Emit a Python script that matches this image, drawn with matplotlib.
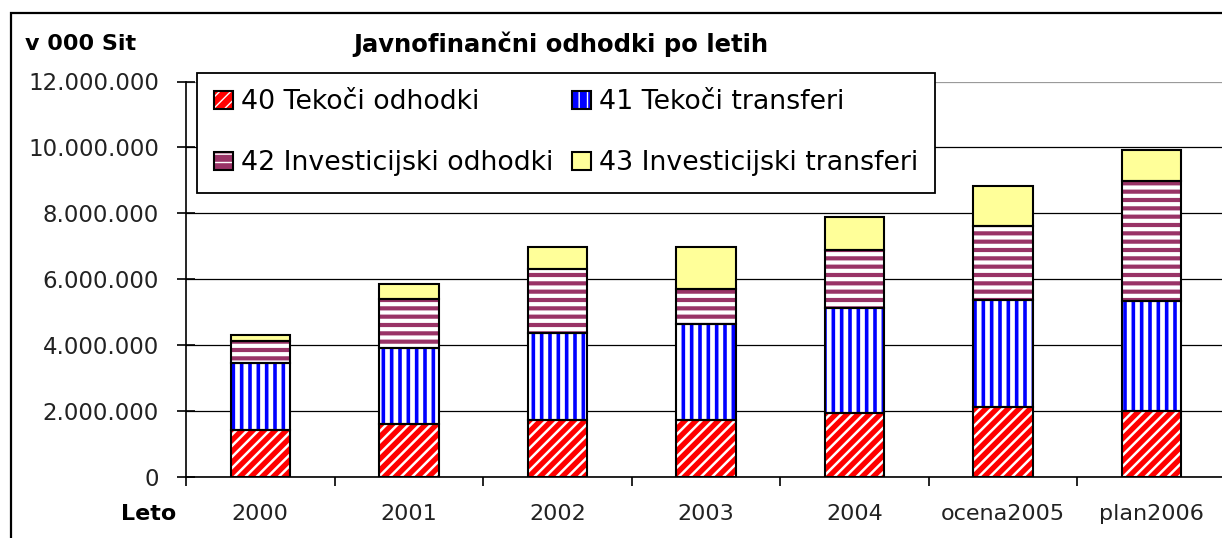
"""Javnofinančni odhodki po letih — stacked bar chart (v 000 Sit)."""

import matplotlib

matplotlib.use("Agg")
import matplotlib.pyplot as plt  # noqa: E402
import numpy as np  # noqa: E402
from matplotlib.legend_handler import HandlerTuple  # noqa: E402
from matplotlib.patches import Rectangle  # noqa: E402
from matplotlib.ticker import FuncFormatter  # noqa: E402

YEARS = ["2000", "2001", "2002", "2003", "2004", "ocena2005", "plan2006"]
SERIES = [
    "40 Tekoči odhodki",
    "41 Tekoči transferi",
    "42 Investicijski odhodki",
    "43 Investicijski transferi",
]
# values in thousand SIT
TEKOCI_ODHODKI = [1420000, 1610000, 1730000, 1740000, 1950000, 2130000, 2010000]
TEKOCI_TRANSFERI = [2060000, 2300000, 2630000, 2900000, 3180000, 3260000, 3320000]
INVEST_ODHODKI = [660000, 1510000, 1950000, 1060000, 1770000, 2240000, 3650000]
INVEST_TRANSFERI = [180000, 450000, 660000, 1270000, 980000, 1190000, 940000]
Y_TICKS = [0, 2000000, 4000000, 6000000, 8000000, 10000000, 12000000]

# face colour, hatch, hatch line width (pt)
STYLES = [
    ("#FF0000", "///", 1.8),
    ("#0000FF", "||", 3.4),
    ("#993366", "--", 3.0),
    ("#FFFF99", "", 1.0),
]

W, H = 1222, 538


def _fmt(v, _pos):
    return f"{v:,.0f}".replace(",", ".")


def main() -> None:
    fig = plt.figure(figsize=(W / 100, H / 100), dpi=100)
    fig.patches.append(Rectangle((11 / W, -0.2), 1.2, 1.2 - 12.7 / H,
                                 transform=fig.transFigure, fill=False,
                                 edgecolor="black", linewidth=1.6, clip_on=False))
    ax = fig.add_axes([186 / W, 1 - 477.3 / H, (1226 - 186) / W, (477.3 - 81.5) / H])

    x = np.arange(len(YEARS))
    bottom = np.zeros(len(YEARS))
    handles = []
    for vals, (color, hatch, hlw) in zip(
        [TEKOCI_ODHODKI, TEKOCI_TRANSFERI, INVEST_ODHODKI, INVEST_TRANSFERI], STYLES
    ):
        # hatch width is picked up when the patch is created
        with plt.rc_context({"hatch.linewidth": hlw}):
            fill = ax.bar(x, vals, 0.4, bottom=bottom, color=color, hatch=hatch,
                          edgecolor="white", linewidth=0, zorder=2)
        edge = ax.bar(x, vals, 0.4, bottom=bottom, facecolor="none",
                      edgecolor="black", linewidth=1.5, zorder=3)
        handles.append((fill[0], edge[0]))
        bottom += np.array(vals)

    ax.set_xlim(-0.5, 6.5)
    ax.set_ylim(0, 12000000)
    ax.set_yticks(Y_TICKS)
    ax.yaxis.set_major_formatter(FuncFormatter(_fmt))
    ax.set_xticks(x, YEARS)
    ax.set_xticks(np.arange(-0.5, 7.0, 1.0), minor=True)

    ax.set_axisbelow(True)
    ax.yaxis.grid(True, color="black", linewidth=0.9)
    ax.yaxis.get_major_ticks()[-1].gridline.set_color("#9a9a9a")
    for side in ("top", "right"):
        ax.spines[side].set_visible(False)
    for side in ("left", "bottom"):
        ax.spines[side].set_linewidth(1.2)

    ax.tick_params(axis="y", direction="inout", length=13, width=1.2, pad=13,
                   labelsize=16.5, labelcolor="#222222")
    ax.tick_params(axis="x", which="major", length=0, pad=19.5, labelsize=16,
                   labelcolor="#222222")
    ax.tick_params(axis="x", which="minor", direction="out", length=6.5, width=1.2)

    order = [0, 2, 1, 3]
    leg = ax.legend([handles[i] for i in order], [SERIES[i] for i in order],
                    handler_map={tuple: HandlerTuple(ndivide=1)},
                    ncol=2, loc="upper left", bbox_to_anchor=(197 / W, 1 - 72.7 / H),
                    bbox_transform=fig.transFigure, fontsize=19.3, frameon=True,
                    fancybox=False, shadow=False, framealpha=1, edgecolor="black",
                    borderpad=0.62, labelspacing=1.3, handlelength=0.72,
                    handleheight=0.65, handletextpad=0.3, columnspacing=0.7,
                    borderaxespad=0)
    leg.get_frame().set_linewidth(1.3)
    leg.set_zorder(5)

    fig.text(25 / W, 1 - 44 / H, "v 000 Sit", fontsize=16, fontweight="bold",
             ha="left", va="center")
    fig.text(561 / W, 1 - 44 / H, "Javnofinančni odhodki po letih", fontsize=17.5,
             fontweight="bold", ha="center", va="center")
    fig.text(176 / W, 1 - 513.5 / H, "Leto", fontsize=16, fontweight="bold",
             ha="right", va="center")

    fig.savefig("out.png", dpi=100)
    plt.close(fig)


if __name__ == "__main__":
    main()
